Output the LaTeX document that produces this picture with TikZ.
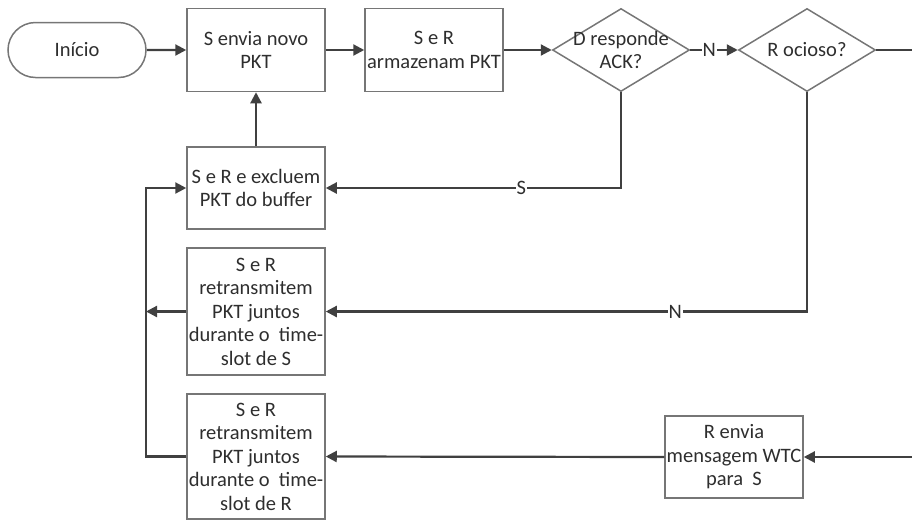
\documentclass[tikz,border=0pt]{standalone}
\usepackage{fontspec}
\setmainfont{Carlito}
\usetikzlibrary{shapes.geometric,shapes.misc,arrows.meta}
\definecolor{boxc}{HTML}{767676}
\definecolor{linec}{HTML}{404040}
\definecolor{txtc}{HTML}{2E2E2E}
\tikzset{
  txtfont/.style={font=\fontsize{20.5}{23.5}\selectfont},
  base/.style={draw=boxc, line width=1.5pt, text=txtc, inner sep=0pt, align=center, txtfont},
  procbox/.style={base, rectangle, minimum width=138pt},
  termbox/.style={base, rounded rectangle, minimum width=138pt, minimum height=55pt},
  decbox/.style={draw=boxc, line width=1.5pt, diamond, inner sep=0pt, minimum width=137pt, minimum height=83pt},
  dectext/.style={text=txtc, align=center, inner sep=0pt, txtfont},
  conn/.style={draw=linec, line width=2.2pt, -{Triangle[length=11pt,width=11pt]}},
  plain/.style={draw=linec, line width=2.2pt},
  lbl/.style={fill=white, inner sep=1pt, text=txtc, font=\fontsize{20.5}{21}\selectfont}
}
\begin{document}
\begin{tikzpicture}[x=1pt,y=-1pt]
\useasboundingbox (0,0) rectangle (912,520);
\node[termbox] (ini) at (77,50) {Início};
\node[procbox, minimum height=83pt] (envia) at (256,50) {S envia novo\\PKT};
\node[procbox, minimum height=83pt] (arm) at (434,50) {S e R\\armazenam PKT};
\node[decbox] (ack) at (621,50) {};
\node[dectext] (acktxt) at (ack.center) {D responde\\ACK?};
\node[decbox] (ocio) at (807,50) {};
\node[dectext] (ociotxt) at (ocio.center) {R ocioso?};
\node[procbox, minimum height=82pt] (excl) at (256,188) {S e R e excluem\\PKT do buffer};
\node[procbox, minimum height=127pt] (retS) at (256,311.5) {S e R\\retransmitem\\PKT juntos\\durante o~ time-\\slot de S};
\node[procbox, minimum height=125pt] (retR) at (256,456.5) {S e R\\retransmitem\\PKT juntos\\durante o~ time-\\slot de R};
\node[procbox, minimum height=82pt] (wtc) at (734,457) {R envia\\mensagem WTC\\para~ S};
\coordinate (outR) at (912,50);
\coordinate (inR) at (912,457);
\coordinate (loopx) at (146,0);

\draw[conn] (ini) -- (envia);
\draw[conn] (envia) -- (arm);
\draw[conn] (arm) -- (ack);
\draw[conn] (ack.east) -- node[lbl, pos=0.4] {N} (ocio.west);
\draw[plain] (ocio.east) -- (outR);
\draw[conn] (ack.south) |- node[lbl, pos=0.669] {S} (excl.east);
\draw[conn] (excl) -- (envia);
\draw[conn] (ocio.south) |- node[lbl, pos=0.637] {N} (retS.east);
\draw[conn] (inR) -- (wtc.east);
\draw[conn] (wtc.west) -- (retR.east);
\draw[conn] (retS.west) -- (retS.west -| loopx);
\draw[conn] (retR.west) -- (retR.west -| loopx) |- (excl.west);
\end{tikzpicture}
\end{document}
